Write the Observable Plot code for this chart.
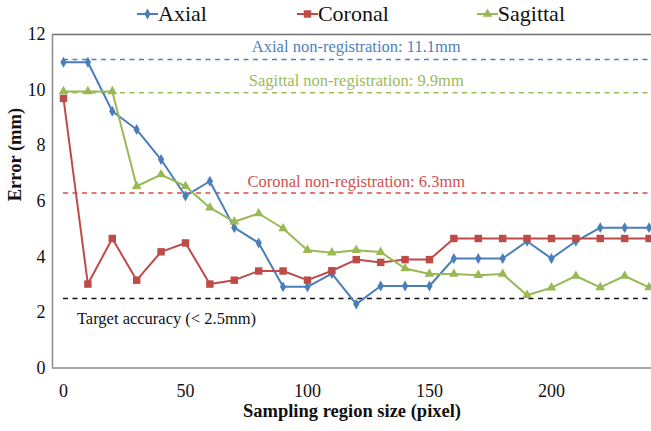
<!DOCTYPE html>
<html>
<head>
<meta charset="utf-8">
<script src="https://cdn.jsdelivr.net/npm/d3@7"></script>
<script src="https://cdn.jsdelivr.net/npm/@observablehq/plot@0.6"></script>
<style>
  html, body { margin: 0; padding: 0; background: #fff; }
  #wrap { width: 651px; height: 431px; overflow: hidden; font-family: "Liberation Serif", "Times New Roman", serif; }
  #legend { height: 28px; display: flex; align-items: center; font-size: 22px; color: #111; }
  .item { display: flex; align-items: center; }
  .item svg { display: block; }
</style>
</head>
<body>
<div id="wrap">
  <div id="legend"></div>
  <div id="chart"></div>
</div>
<script>
const sizes = [0, 10, 20, 30, 40, 50, 60, 70, 80, 90, 100, 110, 120, 130, 140, 150, 160, 170, 180, 190, 200, 210, 220, 230, 240];
const axial = [11.0, 11.0, 9.24, 8.58, 7.5, 6.19, 6.72, 5.05, 4.5, 2.92, 2.92, 3.4, 2.3, 2.95, 2.95, 2.95, 3.94, 3.94, 3.94, 4.56, 3.94, 4.56, 5.05, 5.05, 5.05];
const coronal = [9.7, 3.02, 4.66, 3.16, 4.18, 4.5, 3.02, 3.16, 3.49, 3.49, 3.16, 3.5, 3.9, 3.8, 3.9, 3.9, 4.66, 4.66, 4.66, 4.66, 4.66, 4.66, 4.66, 4.66, 4.66];
const sagittal = [9.95, 9.95, 9.95, 6.54, 6.96, 6.54, 5.77, 5.26, 5.56, 5.02, 4.24, 4.15, 4.24, 4.17, 3.58, 3.38, 3.38, 3.34, 3.38, 2.62, 2.89, 3.31, 2.9, 3.31, 2.9];

const seriesNames = ["Axial", "Coronal", "Sagittal"];
const seriesColors = ["#4a7ebb", "#be4b48", "#98b954"];
const seriesSymbols = ["diamond", "square", "triangle"];
const seriesR = [3.3, 4.2, 3.6];

const refValues = [11.1, 9.9, 6.3, 2.5];
const refLabels = ["Axial non-registration: 11.1mm", "Sagittal non-registration: 9.9mm", "Coronal non-registration: 6.3mm", "Target accuracy (< 2.5mm)"];
const refColors = ["#4f81bd", "#9bbb59", "#dd4b4b", "#111111"];
const refTextColors = ["#4f81bd", "#9bbb59", "#d05050", "#111111"];

const xTicks = [0, 50, 100, 150, 200];
const yTicks = [0, 2, 4, 6, 8, 10, 12];
const xDomain = [-4.5, 241];
const yDomain = [0, 12];

const seriesValues = [axial, coronal, sagittal];
const rows = [];
seriesNames.forEach((name, i) => sizes.forEach((s, j) => rows.push({series: name, size: s, error: seriesValues[i][j]})));
const refs = refValues.map((v, i) => ({value: v, label: refLabels[i], color: refColors[i], tcolor: refTextColors[i]}));

const font = "Liberation Serif, Times New Roman, serif";

const marks = [
  Plot.ruleY([yDomain[0]], {stroke: "#8a8a8a", strokeWidth: 1.5}),
  Plot.ruleY([yDomain[1]], {stroke: "#707070", strokeWidth: 1.5}),
  Plot.ruleX([xDomain[0]], {stroke: "#8a8a8a", strokeWidth: 1.5}),
  Plot.ruleY(refs, {y: "value", x1: 0, x2: xDomain[1], stroke: "color", strokeWidth: 1.5, strokeDasharray: "5,4.5"}),
  Plot.text([refs[0]], {x: 120, y: "value", text: "label", fill: "tcolor", dy: -13, fontSize: 16.5, fontFamily: font}),
  Plot.text([refs[1]], {x: 120, y: "value", text: "label", fill: "tcolor", dy: -12, fontSize: 16.5, fontFamily: font}),
  Plot.text([refs[2]], {x: 120, y: "value", text: "label", fill: "tcolor", dy: -11, fontSize: 16.5, fontFamily: font}),
  Plot.text([refs[3]], {x: 5.5, y: "value", text: "label", fill: "tcolor", dy: 20, textAnchor: "start", fontSize: 16.5, fontFamily: font})
];

seriesNames.forEach((name, i) => {
  const data = rows.filter(d => d.series === name);
  marks.push(Plot.line(data, {x: "size", y: "error", stroke: seriesColors[i], strokeWidth: 2}));
  marks.push(Plot.dot(data, {x: "size", y: "error", symbol: () => seriesSymbols[i], fill: seriesColors[i], stroke: "none", r: seriesR[i]}));
});

marks.push(Plot.axisX({ticks: xTicks, tickSize: 0, tickPadding: 16, fontSize: 18, fontFamily: font, label: null, color: "#111"}));
marks.push(Plot.axisY({ticks: yTicks, tickSize: 0, tickPadding: 7, fontSize: 18, fontFamily: font, label: null, color: "#111"}));
marks.push(Plot.text(["Sampling region size (pixel)"], {frameAnchor: "bottom", lineAnchor: "middle", dy: 43, text: d => d, fontSize: 18.5, fontWeight: "bold", fontFamily: font, fill: "#111"}));
marks.push(Plot.text(["Error (mm)"], {frameAnchor: "left", dx: -37, rotate: -90, text: d => d, fontSize: 18.5, fontWeight: "bold", fontFamily: font, fill: "#111"}));

const chart = Plot.plot({
  width: 651,
  height: 403,
  marginTop: 6,
  marginBottom: 63.5,
  marginLeft: 52,
  marginRight: 0,
  style: {overflow: "visible", fontFamily: font, background: "white"},
  x: {domain: xDomain, axis: null},
  y: {domain: yDomain, axis: null},
  marks
});
document.getElementById("chart").appendChild(chart);

// legend
const legend = document.getElementById("legend");
const legendOffsets = [137, 90, 88];
seriesNames.forEach((name, i) => {
  const item = document.createElement("div");
  item.className = "item";
  item.style.marginLeft = legendOffsets[i] + "px";
  const sw = d3.create("svg").attr("width", 21).attr("height", 16);
  sw.append("line").attr("x1", 0).attr("x2", 21).attr("y1", 8).attr("y2", 8).attr("stroke", seriesColors[i]).attr("stroke-width", 2);
  sw.append("path").attr("d", d3.symbol(d3["symbol" + seriesSymbols[i][0].toUpperCase() + seriesSymbols[i].slice(1)], Math.PI * seriesR[i] * seriesR[i])()).attr("transform", "translate(10.5,8)").attr("fill", seriesColors[i]);
  item.appendChild(sw.node());
  const t = document.createElement("span");
  t.textContent = name;
  item.appendChild(t);
  legend.appendChild(item);
});
</script>
</body>
</html>
